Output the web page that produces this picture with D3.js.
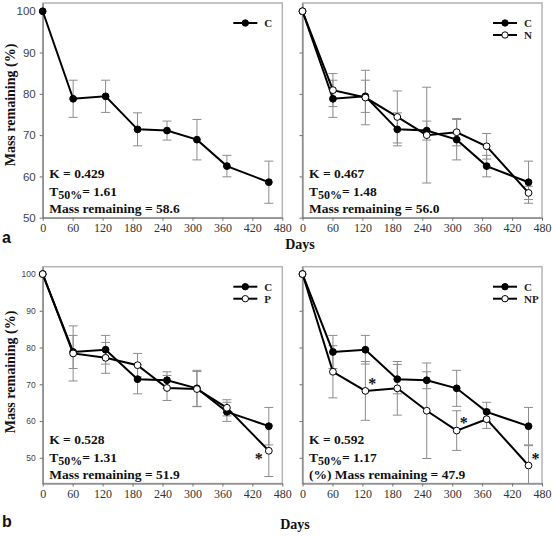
<!DOCTYPE html>
<html><head><meta charset="utf-8">
<script src="https://cdn.jsdelivr.net/npm/d3@7"></script>
<style>
html,body{margin:0;padding:0;background:#fff;}
svg{display:block;}
</style>
</head><body>
<svg id="chart" width="553" height="536"></svg>
<script>
// ---------- data ----------
const days = [0, 61, 126, 190, 249, 309, 369, 453];
const xTickValues = [0, 60, 120, 180, 240, 300, 360, 420, 480];
const yTickValues = [50, 60, 70, 80, 90, 100];

const seriesC  = [100, 78.8, 79.4, 71.4, 71.1, 68.9, 62.5, 58.6];
const errC     = [0, 4.5, 3.9, 4.0, 2.3, 4.9, 2.6, 5.1];
const seriesN  = [100, 80.9, 79.1, 74.4, 70.0, 70.7, 67.3, 56.0];
const errN     = [0, 4.0, 6.6, 6.3, 11.6, 3.3, 3.1, 1.6];
const seriesP  = [100, 78.4, 77.2, 75.2, 69.0, 68.7, 63.6, 51.9];
const errP     = [0, 7.5, 4.2, 3.2, 3.4, 4.8, 2.2, 7.0];
const seriesNP = [100, 73.4, 68.2, 68.9, 62.8, 57.4, 60.5, 47.9];
const errNP    = [0, 7.1, 8.0, 7.3, 13.0, 5.4, 2.5, 5.4];

const panelLabels = ["C", "N", "P", "NP"];
const statK    = ["0.429", "0.467", "0.528", "0.592"];
const statT50  = ["1.61", "1.48", "1.31", "1.17"];
const statMass = ["58.6", "56.0", "51.9", "47.9"];
const massPrefix = ["", "", "", "(%) "];
const starIdxP  = [7];
const starIdxNP = [2, 5, 7];

// ---------- layout ----------
const svg = d3.select("#chart");
const serif = "'Liberation Serif','Times New Roman',serif";
const sans = "'Liberation Sans',Arial,sans-serif";

const cols = [[42.7, 282.3], [302.5, 542]];
const rows = [
  {range: [217.7, 3], domain: [50, 102], yFont: 11.5, tickLabY: 12},
  {range: [483.5, 266.7], domain: [43, 102], yFont: 8.5, tickLabY: 12}
];

const panels = [
  {col: 0, row: 0, treat: null, idx: 0, yLabels: true, stars: [], starOff: []},
  {col: 1, row: 0, treat: {v: seriesN, e: errN, name: "N"}, idx: 1, yLabels: false, stars: [], starOff: []},
  {col: 0, row: 1, treat: {v: seriesP, e: errP, name: "P"}, idx: 2, yLabels: true, stars: starIdxP, starOff: [[-10, 6]]},
  {col: 1, row: 1, treat: {v: seriesNP, e: errNP, name: "NP"}, idx: 3, yLabels: false, stars: starIdxNP, starOff: [[7, -9], [7, -10], [7, -8]]}
];

panels.forEach(p => {
  const [x0, x1] = cols[p.col];
  const R = rows[p.row];
  const x = d3.scaleLinear().domain([0, 480]).range([x0, x1]);
  const y = d3.scaleLinear().domain(R.domain).range(R.range);
  const g = svg.append("g");

  // frame
  g.append("rect").attr("x", x0).attr("y", R.range[1]).attr("width", x1 - x0)
    .attr("height", R.range[0] - R.range[1]).attr("fill", "none")
    .attr("stroke", "#b4b4b4").attr("stroke-width", 1.5);

  // axes
  const xAxis = d3.axisBottom(x).tickValues(xTickValues).tickSize(3).tickPadding(3).tickSizeOuter(0);
  const xg = g.append("g").attr("transform", `translate(0,${R.range[0]})`).call(xAxis);
  xg.select(".domain").attr("stroke", "#707070");
  xg.selectAll(".tick line").attr("stroke", "#707070");
  xg.selectAll("text").attr("font-family", serif).attr("font-size", 12).attr("fill", "#333");

  const yAxis = d3.axisLeft(y).tickValues(yTickValues).tickSize(3).tickPadding(4).tickSizeOuter(0);
  const yg = g.append("g").attr("transform", `translate(${x0},0)`).call(yAxis);
  yg.select(".domain").attr("stroke", "#707070");
  yg.selectAll(".tick line").attr("stroke", "#707070");
  yg.selectAll("text").attr("font-family", sans).attr("font-size", R.yFont).attr("fill", "#444");
  if (!p.yLabels) yg.selectAll("text").remove();

  const series = [{v: seriesC, e: errC, filled: true}];
  if (p.treat) series.push({v: p.treat.v, e: p.treat.e, filled: false});

  const clipId = "clip" + p.idx;
  svg.append("clipPath").attr("id", clipId).append("rect")
    .attr("x", x0 - 6).attr("y", R.range[1] - 6).attr("width", x1 - x0 + 12).attr("height", R.range[0] - R.range[1] + 6);
  const plot = g.append("g").attr("clip-path", `url(#${clipId})`);

  // error bars
  series.forEach(s => {
    const eg = plot.append("g").attr("stroke", "#8c8c8c").attr("stroke-width", 1);
    days.forEach((d, i) => {
      if (!s.e[i]) return;
      const cx = x(d), yt = y(s.v[i] + s.e[i]), yb = y(s.v[i] - s.e[i]);
      eg.append("line").attr("x1", cx).attr("x2", cx).attr("y1", yt).attr("y2", yb);
      eg.append("line").attr("x1", cx - 4.5).attr("x2", cx + 4.5).attr("y1", yt).attr("y2", yt);
      eg.append("line").attr("x1", cx - 4.5).attr("x2", cx + 4.5).attr("y1", yb).attr("y2", yb);
    });
  });
  // lines
  const line = d3.line().x((d, i) => x(days[i])).y(d => y(d));
  series.forEach(s => {
    plot.append("path").attr("d", line(s.v)).attr("fill", "none").attr("stroke", "#000").attr("stroke-width", 2);
  });
  // markers
  series.forEach(s => {
    plot.selectAll(null).data(s.v).enter().append("circle")
      .attr("cx", (d, i) => x(days[i])).attr("cy", d => y(d)).attr("r", 3.4)
      .attr("fill", s.filled ? "#000" : "#fff").attr("stroke", "#000").attr("stroke-width", 1);
  });

  // asterisks
  p.stars.forEach((si, k) => {
    g.append("text").attr("x", x(days[si]) + p.starOff[k][0]).attr("y", y(p.treat.v[si]) + p.starOff[k][1] + 7)
      .attr("text-anchor", "middle").attr("font-family", serif).attr("font-weight", "bold")
      .attr("font-size", 16).attr("fill", "#111").text("*");
  });

  // legend
  const legNames = ["C"].concat(p.treat ? [p.treat.name] : []);
  const lx = x1 - 49, ly = R.range[1] + 20;
  legNames.forEach((nm, k) => {
    const yy = ly + k * 12;
    g.append("line").attr("x1", lx).attr("x2", lx + 24).attr("y1", yy).attr("y2", yy)
      .attr("stroke", "#000").attr("stroke-width", 2);
    g.append("circle").attr("cx", lx + 12).attr("cy", yy).attr("r", 3.2)
      .attr("fill", k === 0 ? "#000" : "#fff").attr("stroke", "#000");
    g.append("text").attr("x", lx + 31).attr("y", yy + 4).attr("font-family", serif)
      .attr("font-size", 11).attr("font-weight", "bold").attr("fill", "#222").text(nm);
  });

  // stats text
  const tx = x0 + 6.5, by = R.range[0];
  const st = {"font-family": serif, "font-weight": "bold", "font-size": 13.5, "fill": "#111"};
  const t1 = g.append("text").attr("x", tx).attr("y", by - 40).text("K = " + statK[p.idx]);
  const t2 = g.append("text").attr("x", tx).attr("y", by - 22);
  t2.append("tspan").text("T");
  t2.append("tspan").attr("dy", 3).attr("font-size", 12).text("50%");
  t2.append("tspan").attr("dy", -3).text("= " + statT50[p.idx]);
  const t3 = g.append("text").attr("x", tx).attr("y", by - 5).text(massPrefix[p.idx] + "Mass remaining = " + statMass[p.idx]);
  [t1, t2, t3].forEach(t => Object.entries(st).forEach(([k, v]) => t.attr(k, v)));
});

// axis titles
const ylab = [105, 372];
ylab.forEach(cy => {
  svg.append("text").attr("transform", `translate(15,${cy}) rotate(-90)`).attr("text-anchor", "middle")
    .attr("font-family", serif).attr("font-weight", "bold").attr("font-size", 14).attr("fill", "#111")
    .text("Mass remaining (%)");
});
[[300, 249], [295, 529]].forEach(([cx, cy]) => {
  svg.append("text").attr("x", cx).attr("y", cy).attr("text-anchor", "middle")
    .attr("font-family", serif).attr("font-weight", "bold").attr("font-size", 14).attr("fill", "#111").text("Days");
});
[["a", 243], ["b", 527]].forEach(([t, yy]) => {
  svg.append("text").attr("x", 2).attr("y", yy).attr("font-family", sans).attr("font-weight", "bold")
    .attr("font-size", 16).attr("fill", "#111").text(t);
});
</script>
</body></html>
